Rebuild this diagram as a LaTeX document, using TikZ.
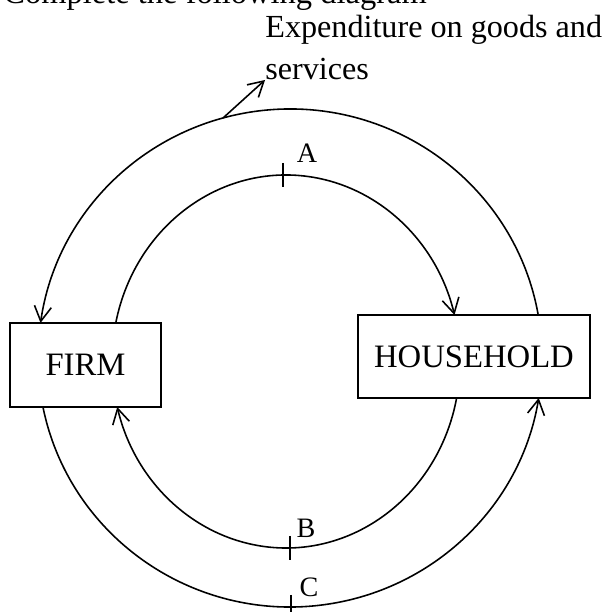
\documentclass[tikz,border=0pt]{standalone}
\usepackage{fontspec}
\setmainfont{Liberation Serif}
\usetikzlibrary{arrows.meta}
\tikzset{
  box/.style={draw, line width=1.2pt, inner sep=0pt, font=\fontsize{18.6}{22}\selectfont},
  flow/.style={line width=0.9pt, -{Straight Barb[length=3mm,width=3.4mm,line width=0.9pt]}},
  letter/.style={font=\fontsize{16}{19}\selectfont, inner sep=0pt},
}
\begin{document}
\begin{tikzpicture}
        \useasboundingbox (0,0) rectangle (12.12,12.24);
        \node [anchor=base west, inner sep=0pt, font=\fontsize{18.5}{22}\selectfont] (title) at (0.06,12.16) {Complete the following diagram};
        \node [anchor=base west, inner sep=0pt, align=left, font=\fontsize{18.3}{23.9}\selectfont] (exp) at (5.30,10.64) {Expenditure on goods and\\services};
        \node [box, minimum width=3.02cm, minimum height=1.68cm] (firm) at (1.71,4.94) {FIRM};
        \node [box, minimum width=4.64cm, minimum height=1.66cm] (hh) at (9.48,5.11) {HOUSEHOLD};
        \coordinate (outer) at (5.8,5.08);
        \coordinate (inner) at (5.72,5.01);
        \draw [flow] ([shift={(9.94:5.04cm and 4.98cm)}]outer) arc [start angle=9.94, end angle=171.9, x radius=5.04, y radius=4.98];
        \draw [flow] ([shift={(191.35:5.04cm and 4.98cm)}]outer) arc [start angle=191.35, end angle=350.76, x radius=5.04, y radius=4.98];
        \draw [flow] ([shift={(168.09:3.48cm and 3.73cm)}]inner) arc [start angle=168.09, end angle=14.44, x radius=3.48, y radius=3.73];
        \draw [flow] ([shift={(-11.29:3.48cm and 3.73cm)}]inner) arc [start angle=-11.29, end angle=-165.88, x radius=3.48, y radius=3.73];
        \coordinate (spend) at ([shift={(105.4:5.04cm and 4.98cm)}]outer);
        \draw [flow] (spend) -- (exp.base west);
        \coordinate (a) at (5.66,8.74);
        \coordinate (b) at (5.8,1.28);
        \coordinate (c) at (5.82,0.10);
        \foreach \p in {a,b,c}
          \draw [line width=0.9pt] (\p) +(0,0.24) -- +(0,-0.24);
        \node [letter] (la) at (6.14,9.18) {A};
        \node [letter] (lb) at (6.12,1.68) {B};
        \node [letter] (lc) at (6.18,0.50) {C};
      \end{tikzpicture}
\end{document}
